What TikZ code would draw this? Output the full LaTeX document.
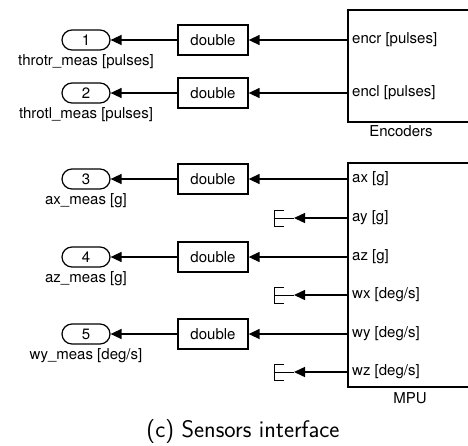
\documentclass[tikz,border=0pt]{standalone}
\usepackage{fontspec}
\setmainfont{TeX Gyre Heros}
\usetikzlibrary{arrows.meta}
\begin{document}
\begin{tikzpicture}[x=1pt,y=-1pt,
  font=\fontsize{15}{17}\selectfont,
  blk/.style={draw, line width=1.3pt, inner sep=0pt},
  dblbox/.style={blk, minimum width=70pt, minimum height=30pt},
  outport/.style={draw, line width=1.2pt, rounded corners=10pt,
    minimum width=48pt, minimum height=20pt, inner sep=0pt},
  sig/.style={line width=1.4pt, -{Triangle[length=11pt,width=10pt]}},
  portlbl/.style={anchor=west, inner sep=0pt, xshift=4pt},
  outlbl/.style={anchor=north, inner sep=0pt, yshift=-4pt},
  blklbl/.style={anchor=north, inner sep=0pt},
  terminator/.pic={
    \draw[line width=1pt] (10,-8) -- (0,-8) -- (0,8) -- (10,8);
    \draw[line width=1pt] (0,0) -- (20,0);
    \coordinate (-in) at (20,0);
  }]
\useasboundingbox (0,0) rectangle (468,445);

% ---- Encoders subsystem ----
\node[blk, minimum width=124pt, minimum height=112pt] (enc) at (410,66) {};
\node[blklbl] (enclbl) at (401,125) {Encoders};
\coordinate (encr) at (348,40);
\coordinate (encl) at (348,93);
\node[portlbl] (encrl) at (encr) {encr [pulses]};
\node[portlbl] (encll) at (encl) {encl [pulses]};

% ---- MPU subsystem ----
\node[blk, minimum width=124pt, minimum height=224pt] (mpu) at (410,275) {};
\node[blklbl] (mpulbl) at (410,392) {MPU};
\coordinate (ax) at (348,179);
\coordinate (ay) at (348,218);
\coordinate (az) at (348,257);
\coordinate (wx) at (348,295);
\coordinate (wy) at (348,334);
\coordinate (wz) at (348,372);
\node[portlbl] (axl) at (ax) {ax [g]};
\node[portlbl] (ayl) at (ay) {ay [g]};
\node[portlbl] (azl) at (az) {az [g]};
\node[portlbl] (wxl) at (wx) {wx [deg/s]};
\node[portlbl] (wyl) at (wy) {wy [deg/s]};
\node[portlbl] (wzl) at (wz) {wz [deg/s]};

% ---- data type conversions ----
\node[dblbox] (d1) at (213,40)  {double};
\node[dblbox] (d2) at (213,93)  {double};
\node[dblbox] (d3) at (213,179) {double};
\node[dblbox] (d4) at (213,257) {double};
\node[dblbox] (d5) at (213,334) {double};

% ---- outports ----
\node[outport] (o1) at (86,40)  {1};
\node[outport] (o2) at (86,93)  {2};
\node[outport] (o3) at (86,179) {3};
\node[outport] (o4) at (86,257) {4};
\node[outport] (o5) at (86,334) {5};
\node[outlbl] (o1l) at (o1.south) {throtr\_meas [pulses]};
\node[outlbl] (o2l) at (o2.south) {throtl\_meas [pulses]};
\node[outlbl] (o3l) at (o3.south) {ax\_meas [g]};
\node[outlbl] (o4l) at (o4.south) {az\_meas [g]};
\node[outlbl] (o5l) at (o5.south) {wy\_meas [deg/s]};

% ---- terminators for unused MPU outputs ----
\pic (tay) at (274,218) {terminator};
\pic (twx) at (274,295) {terminator};
\pic (twz) at (274,372) {terminator};

% ---- signal lines ----
\draw[sig] (encr) -- (d1.east);
\draw[sig] (encl) -- (d2.east);
\draw[sig] (ax) -- (d3.east);
\draw[sig] (az) -- (d4.east);
\draw[sig] (wy) -- (d5.east);
\draw[sig] (ay) -- (tay-in);
\draw[sig] (wx) -- (twx-in);
\draw[sig] (wz) -- (twz-in);
\draw[sig] (d1.west) -- (o1.east);
\draw[sig] (d2.west) -- (o2.east);
\draw[sig] (d3.west) -- (o3.east);
\draw[sig] (d4.west) -- (o4.east);
\draw[sig] (d5.west) -- (o5.east);

% ---- caption ----
\node[anchor=base, inner sep=0pt, font=\sffamily\fontsize{24}{28}\selectfont]
  (cap) at (243,437) {(c) Sensors interface};
\end{tikzpicture}
\end{document}
